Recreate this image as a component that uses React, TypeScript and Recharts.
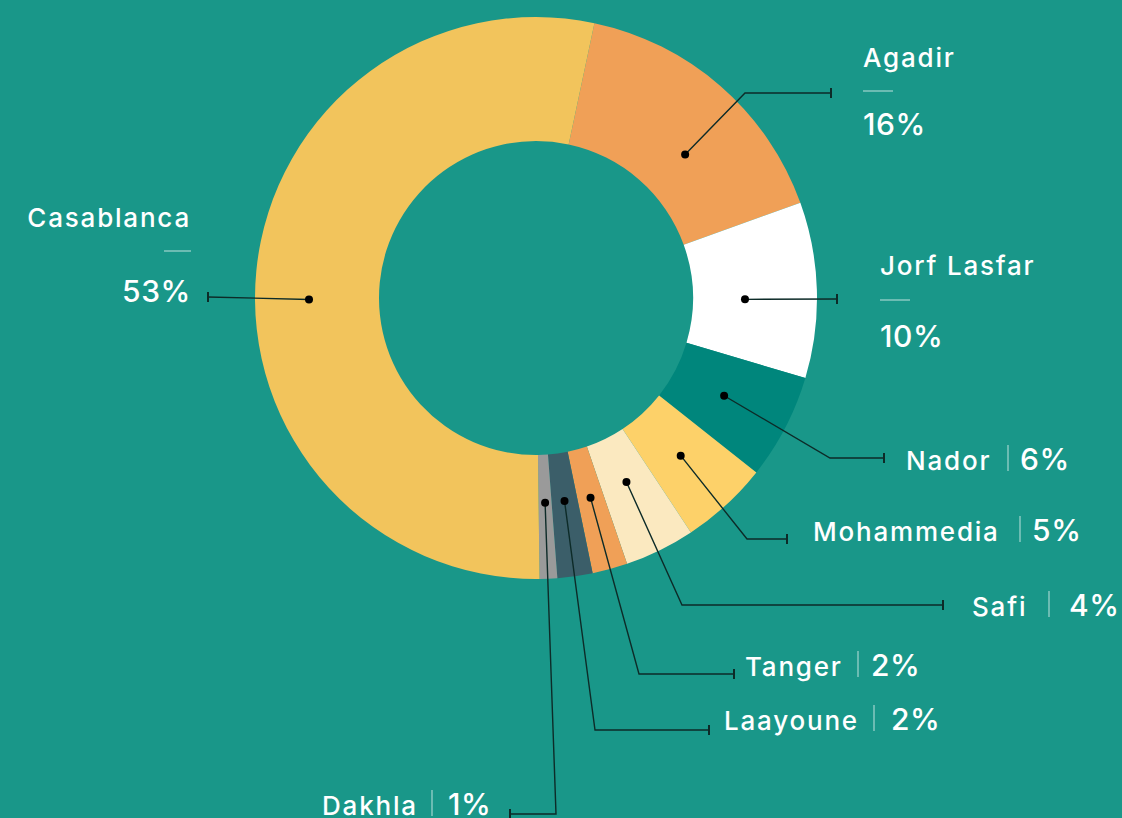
import { PieChart, Pie, Cell } from 'recharts'

const ports = ['Agadir', 'Jorf Lasfar', 'Nador', 'Mohammedia', 'Safi', 'Tanger', 'Laayoune', 'Dakhla', 'Casablanca']
const shares = [16, 10, 6, 5, 4, 2, 2, 1, 53]
const sliceColors = ['#f0a057', '#ffffff', '#00867c', '#fdd169', '#fbe9c0', '#f0a057', '#3b5e69', '#9a9a9a', '#f2c45c']

const BG = '#199789'
const RAD = Math.PI / 180

// label placement per port (same order as ports); turn = small angle nudge of the dot
const labelLayout = [
  { kind: 'stack', anchor: 'start', x: 863, nameY: 67, dashY: 91, pctY: 135, dotR: 207, turn: -5, path: [[745, 93], [831, 93]] },
  { kind: 'stack', anchor: 'start', x: 880, nameY: 275, dashY: 300, pctY: 347, dotR: 209, turn: -2, path: [[837, 299]] },
  { kind: 'inline', x: 906, y: 470, sepX: 1008, pctX: 1020, dotR: 212, turn: 0, path: [[830, 458], [884, 458]] },
  { kind: 'inline', x: 813, y: 541, sepX: 1020, pctX: 1032, dotR: 214, turn: 0, path: [[747, 539], [787, 539]] },
  { kind: 'inline', x: 972, y: 616, sepX: 1049, pctX: 1069, dotR: 205, turn: 0, path: [[682, 605], [943, 605]] },
  { kind: 'inline', x: 745, y: 676, sepX: 858, pctX: 871, dotR: 207, turn: 0, path: [[639, 674], [734, 674]] },
  { kind: 'inline', x: 724, y: 730, sepX: 874, pctX: 891, dotR: 205, turn: 0, path: [[595, 730], [709, 730]] },
  { kind: 'inline', x: 322, y: 815, sepX: 432, pctX: 448, dotR: 205, turn: 0, path: [[556, 814], [510, 814]] },
  { kind: 'stack', anchor: 'end', x: 191, nameY: 227, dashY: 251, pctY: 302, dotR: 227, turn: 6, path: [[208, 297]] },
]

const data = ports.map((name, i) => ({ name, value: shares[i] }))

const FONT = 'Inter, "Noto Sans", sans-serif'

function PortLabel(props: any) {
  const { cx, cy, midAngle, index } = props
  const lay: any = labelLayout[index]
  const a = (midAngle + lay.turn) * RAD
  const dx = cx + lay.dotR * Math.cos(-a)
  const dy = cy + lay.dotR * Math.sin(-a)
  const pts = [[dx, dy], ...lay.path]
  const end = pts[pts.length - 1]
  const line = pts.map((p) => p.join(',')).join(' ')
  const name = ports[index]
  const pct = `${shares[index]}%`

  return (
    <g>
      <polyline points={line} fill="none" stroke="#0d2b28" strokeWidth={1.4} />
      <line x1={end[0]} y1={end[1] - 5} x2={end[0]} y2={end[1] + 5} stroke="#0d2b28" strokeWidth={2} />
      <circle cx={dx} cy={dy} r={4} fill="#000" />
      {lay.kind === 'stack' ? (
        <g fontFamily={FONT} fill="#fff" fontWeight={500}>
          <text x={lay.x} y={lay.nameY} textAnchor={lay.anchor} fontSize={26} letterSpacing={1.8}>
            {name}
          </text>
          <line
            x1={lay.anchor === 'end' ? lay.x - 27 : lay.x}
            x2={lay.anchor === 'end' ? lay.x : lay.x + 30}
            y1={lay.dashY}
            y2={lay.dashY}
            stroke="rgba(255,255,255,0.6)"
            strokeWidth={1.2}
          />
          <text x={lay.x} y={lay.pctY} textAnchor={lay.anchor} fontSize={30} letterSpacing={0.6}>
            {pct}
          </text>
        </g>
      ) : (
        <g fontFamily={FONT} fill="#fff" fontWeight={500}>
          <text x={lay.x} y={lay.y} fontSize={26} letterSpacing={1.8}>
            {name}
          </text>
          <line x1={lay.sepX} x2={lay.sepX} y1={lay.y - 25} y2={lay.y + 1} stroke="rgba(255,255,255,0.6)" strokeWidth={1.2} />
          <text x={lay.pctX} y={lay.y} fontSize={30} letterSpacing={0.6}>
            {pct}
          </text>
        </g>
      )}
    </g>
  )
}

export default function App() {
  return (
    <div style={{ position: 'absolute', left: 0, top: 0, width: 1122, height: 818, background: BG, overflow: 'hidden' }}>
      <PieChart width={1122} height={818} margin={{ top: 0, right: 0, bottom: 0, left: 0 }}>
        <Pie
          data={data}
          dataKey="value"
          nameKey="name"
          cx={536}
          cy={298}
          innerRadius={157}
          outerRadius={281}
          startAngle={78}
          endAngle={-282}
          stroke="none"
          label={PortLabel}
          labelLine={false}
          isAnimationActive={false}
        >
          {data.map((d, i) => (
            <Cell key={d.name} fill={sliceColors[i]} />
          ))}
        </Pie>
      </PieChart>
    </div>
  )
}
